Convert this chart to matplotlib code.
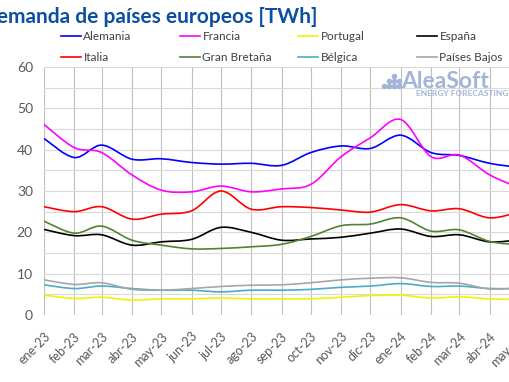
import numpy as np
import matplotlib
matplotlib.use("Agg")
import matplotlib.pyplot as plt
import matplotlib.dates as mdates
from matplotlib.path import Path
from matplotlib.patches import PathPatch
from matplotlib.lines import Line2D
import datetime as dt

# monthly demand, TWh
meses = ["ene-23", "feb-23", "mar-23", "abr-23", "may-23", "jun-23", "jul-23", "ago-23",
         "sep-23", "oct-23", "nov-23", "dic-23", "ene-24", "feb-24", "mar-24", "abr-24", "may-24"]
fechas = [dt.date(2023 + (i // 12), i % 12 + 1, 1) for i in range(len(meses))]

alemania = [42.7, 38.1, 41.1, 37.7, 37.8, 36.9, 36.5, 36.7, 36.2, 39.3, 40.9, 40.3, 43.5, 39.3, 38.6, 36.7, 35.7]
francia = [46.1, 40.5, 39.3, 33.9, 30.2, 29.8, 31.2, 29.8, 30.5, 31.6, 38.3, 42.9, 47.3, 38.3, 38.7, 33.9, 30.8]
portugal = [4.8, 4.0, 4.3, 3.6, 3.9, 3.9, 4.1, 3.9, 3.9, 3.9, 4.3, 4.7, 4.8, 4.1, 4.4, 3.9, 3.8]
espana = [20.7, 19.2, 19.4, 16.9, 17.7, 18.3, 21.2, 20.0, 18.1, 18.4, 18.8, 19.8, 20.8, 19.0, 19.4, 17.7, 18.2]
italia = [26.2, 25.0, 26.2, 23.2, 24.4, 25.2, 30.0, 25.6, 26.2, 26.0, 25.4, 24.9, 26.7, 25.2, 25.7, 23.5, 24.9]
gran_bretana = [22.7, 19.8, 21.5, 18.1, 16.9, 16.0, 16.1, 16.5, 17.1, 19.0, 21.6, 22.0, 23.5, 20.3, 20.6, 17.8, 17.0]
belgica = [7.3, 6.4, 7.0, 6.4, 6.0, 6.0, 5.6, 6.0, 6.0, 6.2, 6.7, 7.0, 7.6, 6.9, 7.0, 6.4, 6.4]
paises_bajos = [8.5, 7.4, 7.8, 6.2, 6.0, 6.4, 6.9, 7.2, 7.3, 7.8, 8.5, 8.9, 9.0, 7.9, 7.7, 6.3, 6.6]

series = [
    ("Alemania", alemania, "#0000ff"),
    ("Francia", francia, "#ff00ff"),
    ("Portugal", portugal, "#f2f200"),
    ("España", espana, "#000000"),
    ("Italia", italia, "#ff0000"),
    ("Gran Bretaña", gran_bretana, "#548235"),
    ("Bélgica", belgica, "#4bacc6"),
    ("Países Bajos", paises_bajos, "#a6a6a6"),
]

plt.rcParams["font.family"] = ["Lato", "DejaVu Sans"]


def smooth_path(x, y):
    # catmull-rom through the points, written as cubic bezier segments
    p = np.column_stack([x, y])
    pts = np.vstack([p[0], p, p[-1]])
    verts = [p[0]]
    codes = [Path.MOVETO]
    for i in range(1, len(pts) - 2):
        p0, p1, p2, p3 = pts[i - 1], pts[i], pts[i + 1], pts[i + 2]
        verts += [p1 + (p2 - p0) / 6, p2 - (p3 - p1) / 6, p2]
        codes += [Path.CURVE4] * 3
    return Path(verts, codes)


fig = plt.figure(figsize=(5.1, 3.82), dpi=100)
ax = fig.add_axes([44 / 510, 1 - 315 / 382, 475 / 510, 248 / 382])

xs = mdates.date2num(fechas)
for nombre, vals, color in series:
    ax.add_patch(PathPatch(smooth_path(xs, vals), fill=False, edgecolor=color,
                           linewidth=1.2, zorder=3))

ax.set_xlim(xs[0], xs[-1])
ax.set_ylim(0, 60)
ax.set_xticks(xs)
ax.set_xticklabels(meses, rotation=45, ha="right", rotation_mode="anchor",
                   fontsize=9, color="#595959")
ax.set_yticks(range(0, 61, 10))
ax.set_yticks(range(5, 60, 10), minor=True)
ax.tick_params(axis="y", labelsize=10, labelcolor="#595959", length=0, pad=8)
ax.tick_params(axis="x", length=0, pad=11)
ax.tick_params(which="minor", length=0)
ax.grid(axis="x", color="#bfbfbf", linewidth=0.8)
ax.grid(axis="y", which="both", color="#d9d9d9", linewidth=0.8)
ax.set_axisbelow(True)
for s in ax.spines.values():
    s.set_visible(False)

# legend, one small legend per column
cols_x = [61 / 510, 180 / 510, 298 / 510, 417 / 510]
for c in range(4):
    hs = [Line2D([], [], color=series[c][2], linewidth=1.2),
          Line2D([], [], color=series[c + 4][2], linewidth=1.2)]
    labs = [series[c][0], series[c + 4][0]]
    fig.legend(hs, labs, loc="upper left", bbox_to_anchor=(cols_x[c], 1 - 31 / 382),
               frameon=False, fontsize=8.5, handlelength=1.7, handletextpad=0.2,
               labelspacing=0.85, borderpad=0, borderaxespad=0, labelcolor="#404040")

fig.text(318 / 510, 1 - 17 / 382, "Demanda de países europeos [TWh]", ha="right", va="center",
         fontsize=15, fontweight="bold", color="#0b4ea2")

# watermark
wm = "#a3b5d7"
fig.text(401 / 510, 1 - 81 / 382, "AleaSoft", ha="left", va="center", fontsize=16.5,
         fontweight="bold", color=wm)
fig.text(508 / 510, 1 - 94 / 382, "ENERGY FORECASTING", ha="right", va="center",
         fontsize=6, fontweight="bold", color=wm)
dot_x = [384, 389, 389, 394, 394, 394, 399, 399]
dot_y = [86, 86, 81, 86, 81, 76, 86, 81]
fig.add_artist(Line2D([v / 510 for v in dot_x], [1 - v / 382 for v in dot_y],
                      transform=fig.transFigure, linestyle="none", marker="o",
                      markersize=3, color=wm))

fig.savefig("out.png", dpi=100)
